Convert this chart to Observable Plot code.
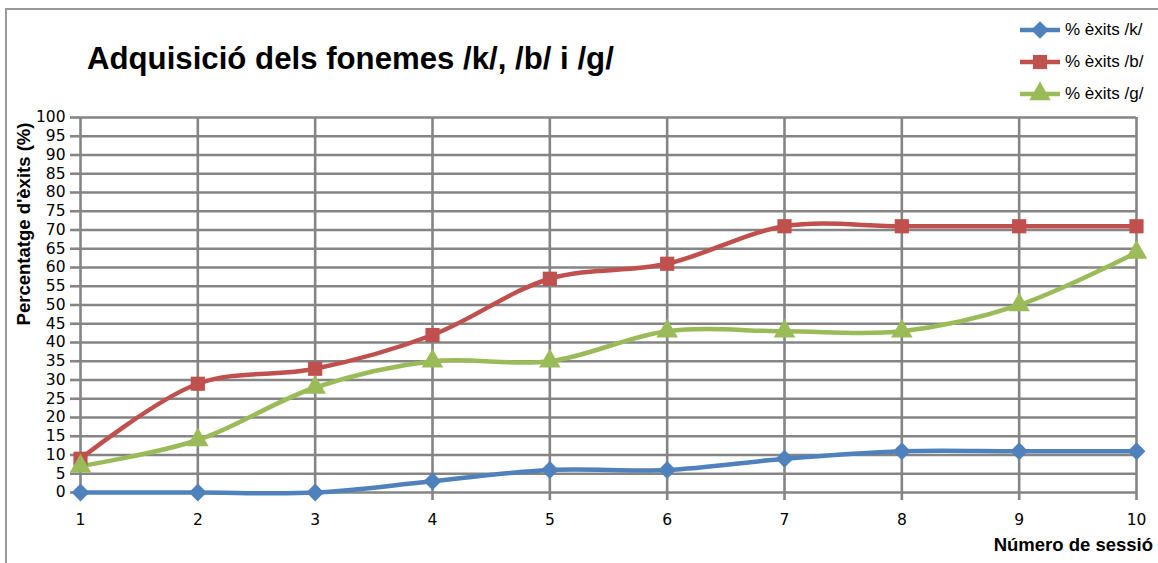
<!DOCTYPE html>
<html>
<head>
<meta charset="utf-8">
<script src="https://cdn.jsdelivr.net/npm/d3@7"></script>
<script src="https://cdn.jsdelivr.net/npm/@observablehq/plot@0.6"></script>
<style>
  html, body { margin: 0; padding: 0; background: #fff; overflow: hidden; }
  #wrap { position: relative; width: 1158px; height: 563px; overflow: hidden; font-family: "Liberation Sans", Arial, sans-serif; }
  #frame { position: absolute; left: 5px; top: 8px; width: 3000px; height: 3000px; border-left: 2px solid #9a9a9a; border-top: 2px solid #9a9a9a; }
  #chart { position: absolute; left: 0; top: 0; }
  #title { position: absolute; left: 87px; top: 41px; font-size: 31.2px; font-weight: bold; color: #000; white-space: nowrap; }
  #ylab { position: absolute; left: 24px; top: 224px; transform: translate(-50%, -50%) rotate(-90deg); font-size: 18.5px; font-weight: bold; white-space: nowrap; }
  #xlab { position: absolute; right: 5px; top: 534px; font-size: 18.5px; font-weight: bold; white-space: nowrap; }
  .leg { position: absolute; left: 1018px; height: 26px; display: flex; align-items: center; font-size: 17px; white-space: nowrap; }
  .leg svg { margin-right: 3px; }
</style>
</head>
<body>
<div id="wrap">
  <div id="frame"></div>
  <div id="chart"></div>
  <div id="title"></div>
  <div id="ylab"></div>
  <div id="xlab"></div>
  <div id="legend"></div>
</div>
<script>
const titleText = "Adquisició dels fonemes /k/, /b/ i /g/";
const yLabel = "Percentatge d'èxits (%)";
const xLabel = "Número de sessió";

const sessions = [1, 2, 3, 4, 5, 6, 7, 8, 9, 10];
const seriesNames = ["% èxits /k/", "% èxits /b/", "% èxits /g/"];
const valuesK = [0, 0, 0, 3, 6, 6, 9, 11, 11, 11];
const valuesB = [9, 29, 33, 42, 57, 61, 71, 71, 71, 71];
const valuesG = [7, 14, 28, 35, 35, 43, 43, 43, 50, 64];
const yTicks = d3.range(0, 101, 5);

const colors = ["#4F81BD", "#C0504D", "#9BBB59"];
const symbols = ["diamond2", "square", "triangle"];

const allValues = [valuesK, valuesB, valuesG];
const data = [];
seriesNames.forEach((name, i) => {
  sessions.forEach((s, j) => data.push({series: name, session: s, value: allValues[i][j]}));
});

document.getElementById("title").textContent = titleText;
document.getElementById("ylab").textContent = yLabel;
document.getElementById("xlab").textContent = xLabel;

const grid = "#858585";

const plot = Plot.plot({
  width: 1158,
  height: 563,
  marginLeft: 80,
  marginRight: 22,
  marginTop: 117,
  marginBottom: 71,
  style: {fontFamily: "DejaVu Sans, sans-serif", fontSize: "15.5px", background: "transparent", color: "#000"},
  x: {domain: [1, 10]},
  y: {domain: [0, 100]},
  color: {domain: seriesNames, range: colors},
  symbol: {domain: seriesNames, range: symbols},
  marks: [
    Plot.gridY(yTicks, {stroke: grid, strokeOpacity: 1, strokeWidth: 2.6}),
    Plot.gridX(sessions, {stroke: grid, strokeOpacity: 1, strokeWidth: 2.6}),
    Plot.axisY(yTicks, {tickSize: 10, tickPadding: 5, stroke: grid, strokeWidth: 2.6, label: null, fill: "#000"}),
    Plot.axisX(sessions, {tickSize: 8, tickPadding: 13, tickFormat: "d", stroke: grid, strokeWidth: 2.6, label: null, fill: "#000"}),
    Plot.line(data, {x: "session", y: "value", z: "series", stroke: "series", strokeWidth: 4.5, curve: "catmull-rom"}),
    Plot.dot(data, {x: "session", y: "value", symbol: "series", fill: "series", stroke: null, r: 8})
  ]
});
document.getElementById("chart").appendChild(plot);

// legend
const legendTop = [17, 49, 81];
const legend = document.getElementById("legend");
const legendSymbols = [d3.symbolDiamond2, d3.symbolSquare, d3.symbolTriangle];
seriesNames.forEach((name, i) => {
  const row = document.createElement("div");
  row.className = "leg";
  row.style.top = legendTop[i] + "px";
  const sym = d3.symbol().type(legendSymbols[i]).size(200)();
  row.innerHTML = `<svg width="44" height="26"><line x1="2" x2="42" y1="13" y2="13" stroke="${colors[i]}" stroke-width="4.5"/><path transform="translate(22,13)" d="${sym}" fill="${colors[i]}"/></svg><span>${name}</span>`;
  legend.appendChild(row);
});
</script>
</body>
</html>
